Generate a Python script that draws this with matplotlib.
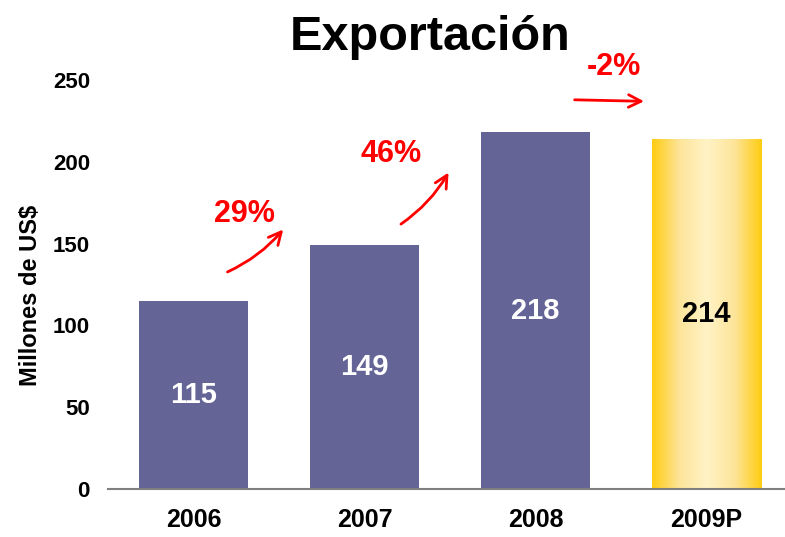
import numpy as np
import matplotlib
matplotlib.use("Agg")
import matplotlib.pyplot as plt
from matplotlib.colors import LinearSegmentedColormap

plt.rcParams['font.family'] = ['Liberation Sans', 'DejaVu Sans']

years = ["2006", "2007", "2008", "2009P"]
values = [115, 149, 218, 214]
growth = ["29%", "46%", "-2%"]

fig = plt.figure(figsize=(7.85, 5.37), dpi=100)
ax = fig.add_axes([0.1376, 0.0894, 0.8624, 0.7614])

x = np.arange(len(years))
bars = ax.bar(x, values, width=0.64, color="#646496", zorder=2)

# last bar: gold gradient (projection)
gold = LinearSegmentedColormap.from_list(
    "gold", ["#FFCC11", "#FDE49A", "#FFF3C6", "#FDE49A", "#FFCC11"])
last = bars[-1]
last.set_facecolor("none")
bx, bw, bh = last.get_x(), last.get_width(), last.get_height()
grad = np.linspace(0, 1, 256).reshape(1, -1)
im = ax.imshow(grad, cmap=gold, aspect="auto", extent=[bx, bx + bw, 0, bh],
               zorder=2)
im.set_clip_path(last)

for i, v in enumerate(values):
    col = "black" if i == len(values) - 1 else "white"
    ax.text(x[i], v / 2, str(v), ha="center", va="center", color=col,
            fontsize=21, fontweight="bold", zorder=3)

ax.set_xlim(-0.5, 3.46)
ax.set_ylim(0, 250)
ax.set_yticks(np.arange(0, 251, 50))
ax.set_xticks(x)
ax.set_xticklabels(years, fontsize=18, fontweight="bold")
for t in ax.get_yticklabels():
    t.set_fontsize(16)
    t.set_fontweight("bold")
ax.tick_params(axis="both", length=0)
ax.tick_params(axis="y", pad=13)
ax.tick_params(axis="x", pad=14)
for s in ["top", "right", "left"]:
    ax.spines[s].set_visible(False)
ax.spines["bottom"].set_color("#808080")
ax.spines["bottom"].set_linewidth(1.5)
ax.set_ylabel("Millones de US$", fontsize=17, fontweight="bold")
ax.yaxis.set_label_coords(-0.097, 0.474)

# growth arrows
arrows = [((0.184, 132), (0.535, 160), (0.30, 168), 0.12),
          ((1.20, 161), (1.50, 195), (1.155, 205), 0.12),
          ((2.213, 238), (2.652, 237), (2.46, 258), 0.0)]
for g, (start, end, tpos, rad) in zip(growth, arrows):
    ax.annotate("", xy=end, xytext=start,
                arrowprops=dict(arrowstyle="->,head_length=0.9,head_width=0.45",
                                color="red", lw=2,
                                connectionstyle=f"arc3,rad={rad}"),
                annotation_clip=False)
    ax.text(tpos[0], tpos[1], g, ha="center", va="center", color="red",
            fontsize=22, fontweight="bold", clip_on=False)

fig.text(0.548, 0.93, "Exportación", ha="center", va="center",
         fontsize=35, fontweight="bold")

fig.savefig("out.png", dpi=100)
